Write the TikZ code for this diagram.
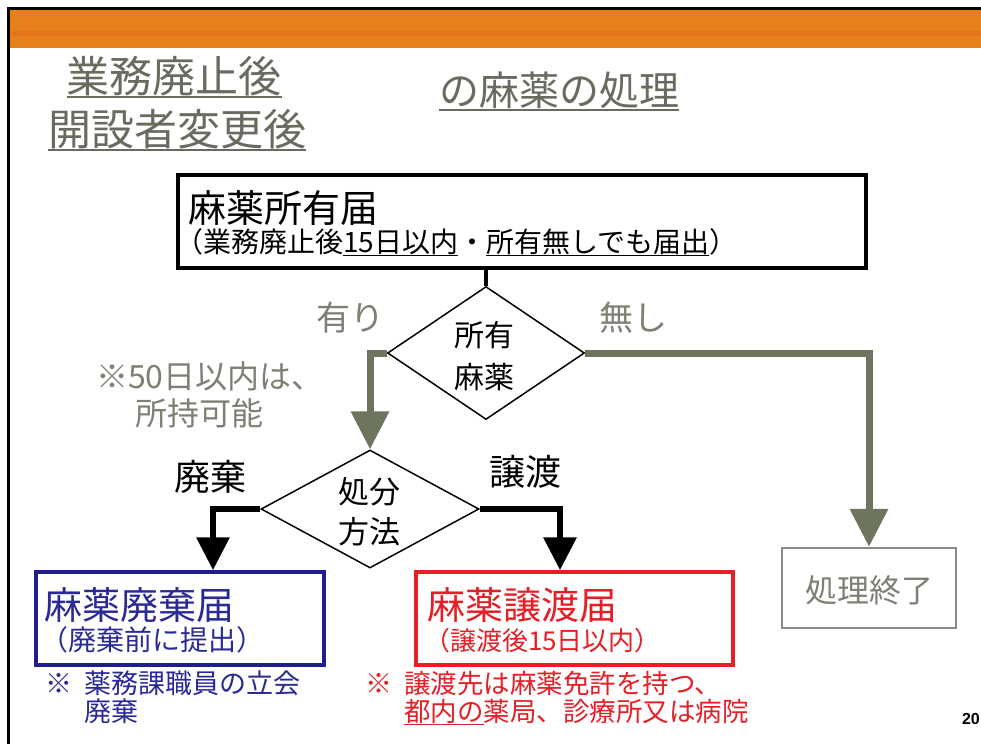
\documentclass[tikz,border=0pt]{standalone}
\usepackage{fontspec}
\setmainfont{Noto Sans CJK JP}
\newfontfamily\numfont{Liberation Sans}
\usetikzlibrary{arrows.meta,shapes.geometric}
\definecolor{orng}{HTML}{E5801A}
\definecolor{orng2}{HTML}{E8731F}
\definecolor{ttlc}{HTML}{676C5E}
\definecolor{grayt}{HTML}{7C8174}
\definecolor{garr}{HTML}{6E755F}
\definecolor{navy}{HTML}{1E1E8C}
\definecolor{navyt}{HTML}{2A2A96}
\definecolor{redc}{HTML}{E61E25}
\definecolor{boxg}{HTML}{8A8B82}
\newcommand\ulx[1]{\setbox0\hbox{#1}\rlap{\rule[-0.15em]{\wd0}{0.055em}}\box0}
\newcommand\fs[1]{\fontsize{#1}{#1}\selectfont}
\tikzset{
  txt/.style={inner sep=0pt, outer sep=0pt},
  flowbox/.style={draw, rectangle, line width=3.5pt, inner sep=0pt},
  dia/.style={draw, diamond, line width=1.5pt, inner sep=0pt, fill=white},
  garrow/.style={draw=garr, line width=7pt, -{Triangle[width=37pt,length=38pt]}, garr},
  barrow/.style={draw=black, line width=6.5pt, -{Triangle[width=32pt,length=33pt]}},
}
\begin{document}
\begin{tikzpicture}[x=1pt,y=-1pt]
\useasboundingbox (0,0) rectangle (981,744);
\fill[white] (0,0) rectangle (981,744);
% header band
\fill[orng] (10,10) rectangle (981,48);
\fill[orng2] (10,31) rectangle (981,36);
\draw[black, line width=2.5pt] (8.5,744) -- (8.5,8.5) -- (981,8.5);

% title
\node[txt, anchor=base, text=ttlc, font=\fs{43}] (t1) at (174,92) {\ulx{業務廃止後}};
\node[txt, anchor=base, text=ttlc, font=\fs{43}] (t2) at (177,145) {\ulx{開設者変更後}};
\node[txt, anchor=base, text=ttlc, font=\fs{40}] (t3) at (559,105) {\ulx{の麻薬の処理}};

% top box
\node[flowbox, minimum width=688pt, minimum height=93pt] (b1) at (522,221.5) {};
\node[txt, anchor=base west, font=\fs{38}] (b1t) at (188,222) {麻薬所有届};
\node[txt, anchor=base west, font=\fs{28}] (b1s) at (175,252) {（業務廃止後\ulx{15日以内}・\ulx{所有無しでも届出}）};

% diamond 1
\node[dia, minimum width=197pt, minimum height=133pt] (d1) at (486,353) {};
\node[txt, anchor=base, font=\fs{30}] (d1a) at (484,346) {所有};
\node[txt, anchor=base, font=\fs{30}] (d1b) at (484,388) {麻薬};
\node[txt, anchor=base, text=grayt, font=\fs{34}] (yes) at (350,330) {有り};
\node[txt, anchor=base, text=grayt, font=\fs{34}] (no) at (633,330) {無し};
\node[txt, anchor=base west, text=grayt, font=\fs{32}] (n50a) at (96,388) {※50日以内は、};
\node[txt, anchor=base west, text=grayt, font=\fs{32}] (n50b) at (135,425) {所持可能};

% diamond 2
\node[dia, minimum width=218pt, minimum height=118pt] (d2) at (370,509) {};
\node[txt, anchor=base, font=\fs{31}] (d2a) at (369,503) {処分};
\node[txt, anchor=base, font=\fs{31}] (d2b) at (369,543) {方法};
\node[txt, anchor=base, font=\fs{36}] (haiki) at (210,490) {廃棄};
\node[txt, anchor=base, font=\fs{36}] (joto) at (525,485) {譲渡};

% bottom boxes
\node[flowbox, draw=navy, minimum width=288pt, minimum height=93pt] (b2) at (180,618.5) {};
\node[txt, anchor=base west, text=navyt, font=\fs{38}] (b2t) at (44,619) {麻薬廃棄届};
\node[txt, anchor=base west, text=navyt, font=\fs{28}] (b2s) at (40,650) {（廃棄前に提出）};

\node[flowbox, draw=redc, minimum width=317pt, minimum height=93pt] (b3) at (574.5,618.5) {};
\node[txt, anchor=base west, text=redc, font=\fs{38}] (b3t) at (427,619) {麻薬譲渡届};
\node[txt, anchor=base west, text=redc, font=\fs{26}] (b3s) at (424,650) {（譲渡後15日以内）};

\node[flowbox, draw=boxg, line width=2.5pt, minimum width=174pt, minimum height=80pt] (b4) at (869,588) {};
\node[txt, anchor=base, text=grayt, font=\fs{32}] (b4t) at (869,602) {処理終了};

% notes
\node[txt, anchor=base west, text=navyt, font=\fs{27}] (bn0) at (45,693) {※};
\node[txt, anchor=base west, text=navyt, font=\fs{27}] (bn1) at (84,693) {薬務課職員の立会};
\node[txt, anchor=base west, text=navyt, font=\fs{27}] (bn2) at (84,721) {廃棄};
\node[txt, anchor=base west, text=redc, font=\fs{27}] (rn0) at (365,693) {※};
\node[txt, anchor=base west, text=redc, font=\fs{26.5}] (rn1) at (404,693) {譲渡先は麻薬免許を持つ、};
\node[txt, anchor=base west, text=redc, font=\fs{26.5}] (rn2) at (404,721) {\ulx{都内の}薬局、診療所又は病院};

% page number
\node[txt, anchor=base west, font=\numfont\bfseries\fs{16}] (pg) at (962,724) {20};

% connectors
\draw[line width=4pt] (d1.north |- b1.south) -- (d1.north);
\draw[garrow] (d1.west) -| (d2.north);
\draw[garrow] (d1.east) -| (b4.north);
\draw[barrow] (d2.west) -| ([xshift=33pt]b2.north);
\draw[barrow] (d2.east) -| ([xshift=-14.5pt]b3.north);
\end{tikzpicture}
\end{document}
